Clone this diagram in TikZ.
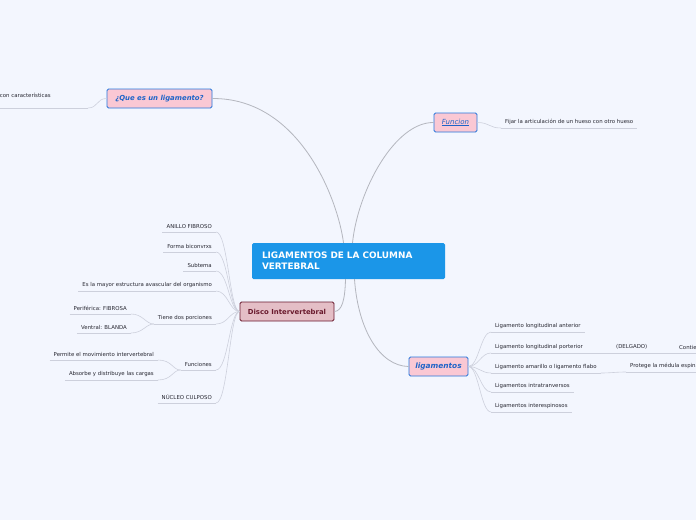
\documentclass[tikz,border=0pt]{standalone}
\usepackage{fontspec}
\setmainfont{DejaVu Sans}
\usepackage{xcolor}
\usetikzlibrary{positioning}

\definecolor{mapbg}{RGB}{243,246,254}
\definecolor{linegray}{RGB}{205,208,220}
\definecolor{trunkgray}{RGB}{180,182,190}
\definecolor{topicblue}{RGB}{38,118,220}
\definecolor{topictext}{RGB}{30,100,200}
\definecolor{topicpink}{RGB}{250,200,212}
\definecolor{mainblue}{RGB}{27,150,232}
\definecolor{discofill}{RGB}{228,190,198}
\definecolor{discoline}{RGB}{105,25,45}
\definecolor{leaftext}{RGB}{40,40,50}

\begin{document}
\begin{tikzpicture}[x=1pt, y=-1pt,
  branch/.style={draw=linegray, line width=0.6pt},
  trunk/.style={draw=trunkgray, line width=0.8pt},
  topic/.style={draw=topicblue, fill=topicpink, line width=0.9pt, rounded corners=1.5pt,
    minimum height=19pt, inner sep=0pt, text=topictext,
    font=\bfseries\itshape\fontsize{6.9}{8}\selectfont},
  central/.style={fill=mainblue, rounded corners=1.5pt, text=white, align=left,
    minimum width=193pt, minimum height=36pt, text width=173pt, inner xsep=10pt,
    font=\bfseries\fontsize{8.9}{11}\selectfont},
  disco/.style={draw=discoline, fill=discofill, line width=0.9pt, rounded corners=1.5pt,
    minimum width=94pt, minimum height=19pt, inner sep=0pt, text=discoline,
    font=\bfseries\fontsize{6.9}{8}\selectfont},
  leaf/.style={text=leaftext, inner xsep=4pt, inner ysep=3.2pt,
    font=\fontsize{5.4}{6.5}\selectfont},
  leafL/.style={leaf, anchor=south east},
  leafR/.style={leaf, anchor=south west}]

  \fill[mapbg] (0,0) rectangle (696,520);
  \useasboundingbox (0,0) rectangle (696,520);
  \clip (0,0) rectangle (696,520);

  % main topics
  \node[central] (main) at (348.5,261) {LIGAMENTOS DE LA COLUMNA\\VERTEBRAL};
  \node[topic, minimum width=105pt] (que) at (159.5,98.5) {¿Que es un ligamento?};
  \node[topic, minimum width=43pt, font=\itshape\fontsize{7}{8}\selectfont] (func) at (455.5,122.5) {\underline{Funcion}};
  \node[disco] (disco) at (287,311.5) {Disco Intervertebral};
  \node[topic, minimum width=59pt, font=\bfseries\itshape\fontsize{7.4}{8}\selectfont] (lig) at (438.5,366.5) {ligamentos};

  \draw[trunk] (que.east) .. controls (300,98) and (338,200) .. ([xshift=-5pt]main.north);
  \draw[trunk] (func.west) .. controls (395,122) and (358,190) .. ([xshift=4pt]main.north);
  \draw[trunk] ([xshift=6pt]main.south) .. controls (358,330) and (380,366) .. (lig.west);
  \draw[trunk] ([xshift=-3pt]main.south) .. controls (345,300) and (342,311) .. (disco.east);

  % ligamento / funcion
  \node[leafL, text width=84pt, align=left, inner ysep=10pt] (carac) at (88,108) {con características};
  \draw[branch] (carac.south east) .. controls +(10,0) and +(-10,0) .. (que.west);
  \node[leafR] (fijar) at (501,128) {Fijar la articulación de un hueso con otro hueso};
  \draw[branch] (func.east) .. controls +(12,0) and +(-12,0) .. (fijar.south west);

  % disco intervertebral
  \node[leafL] (anillo) at (216,232) {ANILLO FIBROSO};
  \node[leafL] (forma) at (216,252) {Forma biconvrxs};
  \node[leafL] (subt) at (216,271) {Subtema};
  \node[leafL] (mayor) at (216,291) {Es la mayor estructura avascular del organismo};
  \node[leafL] (tiene) at (216,324) {Tiene dos porciones};
  \node[leafL] (funcs) at (216,370) {Funciones};
  \node[leafL] (nucleo) at (216,403) {NÚCLEO CULPOSO};
  \foreach \n in {anillo,forma,subt,mayor,tiene,funcs,nucleo}
    \draw[branch] (\n.south east) .. controls +(12,0) and +(-10,0) .. (disco.west);

  \node[leafL] (perif) at (131,314) {Periférica: FIBROSA};
  \node[leafL] (ventral) at (131,333) {Ventral: BLANDA};
  \foreach \n in {perif,ventral}
    \draw[branch] (\n.south east) .. controls +(12,0) and +(-8,0) .. (tiene.south west);

  \node[leafL] (permite) at (158,360) {Permite el movimiento intervertebral};
  \node[leafL] (absorbe) at (158,380) {Absorbe y distribuye las cargas};
  \foreach \n in {permite,absorbe}
    \draw[branch] (\n.south east) .. controls +(14,0) and +(-8,0) .. (funcs.south west);

  % ligamentos
  \node[leafR] (anter) at (491,332) {Ligamento longitudinal anterior};
  \node[leafR] (poster) at (491,353) {Ligamento longitudinal porterior};
  \node[leafR] (amar) at (491,373) {Ligamento amarillo o ligamento flabo};
  \node[leafR] (intra) at (491,392) {Ligamentos intratranversos};
  \node[leafR] (inter) at (491,412) {Ligamentos interespinosos};
  \foreach \n in {anter,poster,amar,intra,inter}
    \draw[branch] (lig.east) .. controls +(10,0) and +(-10,0) .. (\n.south west);

  \node[leafR] (delg) at (612,353) {(DELGADO)};
  \node[leafR] (contie) at (675,353) {Contiene};
  \node[leafR] (protege) at (626,372) {Protege la médula espinal};
  \draw[branch] (poster.south east) -- (delg.south west);
  \draw[branch] (delg.south east) -- (contie.south west);
  \draw[branch] (amar.south east) .. controls +(10,0) and +(-10,0) .. (protege.south west);

  % underlines
  \foreach \n in {carac,fijar,anillo,forma,subt,mayor,tiene,funcs,nucleo,perif,ventral,
      permite,absorbe,anter,poster,amar,intra,inter,delg,contie,protege}
    \draw[branch] (\n.south west) -- (\n.south east);
\end{tikzpicture}
\end{document}
